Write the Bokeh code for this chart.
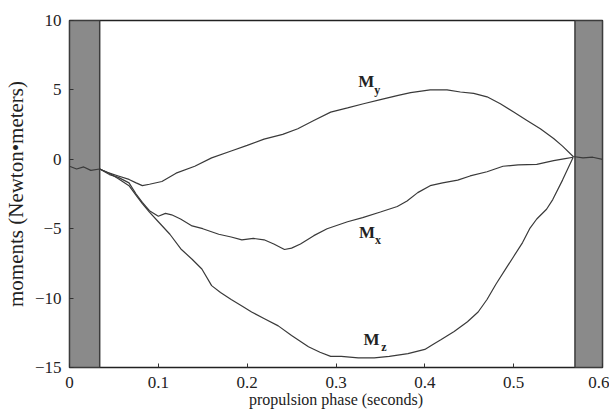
from bokeh.plotting import figure
from bokeh.models import FixedTicker, Range1d
from bokeh.core.properties import value
from bokeh.embed import file_html
from bokeh.resources import INLINE

# ---- data ----
my_x = [0, 0.008, 0.016, 0.024, 0.034, 0.045, 0.055, 0.067, 0.075, 0.082, 0.09, 0.104, 0.12,
        0.141, 0.16, 0.182, 0.2, 0.219, 0.24, 0.257, 0.275, 0.294, 0.313, 0.331, 0.35, 0.37,
        0.384, 0.406, 0.425, 0.44, 0.455, 0.47, 0.485, 0.5, 0.515, 0.53, 0.545, 0.555, 0.567,
        0.578, 0.589, 0.6]
my_y = [-0.5, -0.7, -0.55, -0.8, -0.7, -1.0, -1.2, -1.45, -1.7, -1.9, -1.8, -1.6, -1.0,
        -0.5, 0.1, 0.6, 1.0, 1.45, 1.8, 2.2, 2.8, 3.4, 3.7, 4.0, 4.3, 4.6,
        4.8, 5.0, 5.0, 4.85, 4.75, 4.5, 4.0, 3.4, 2.8, 2.2, 1.5, 0.95, 0.2,
        0.1, 0.15, 0.0]

mx_x = [0.034, 0.045, 0.055, 0.067, 0.075, 0.082, 0.09, 0.1, 0.108, 0.115, 0.125, 0.138, 0.15,
        0.168, 0.182, 0.194, 0.207, 0.219, 0.23, 0.242, 0.25, 0.26, 0.275, 0.29, 0.313, 0.33,
        0.35, 0.369, 0.38, 0.392, 0.406, 0.42, 0.437, 0.451, 0.47, 0.488, 0.505, 0.526, 0.545,
        0.558, 0.567]
mx_y = [-0.7, -1.1, -1.3, -1.7, -2.5, -3.1, -3.7, -4.1, -3.9, -4.0, -4.3, -4.8, -5.0,
        -5.4, -5.6, -5.8, -5.7, -5.8, -6.1, -6.5, -6.4, -6.1, -5.5, -5.0, -4.5, -4.2,
        -3.8, -3.4, -3.0, -2.4, -1.9, -1.7, -1.5, -1.2, -0.9, -0.5, -0.4, -0.36, -0.1,
        0.05, 0.15]

mz_x = [0.034, 0.045, 0.055, 0.067, 0.075, 0.082, 0.09, 0.1, 0.113, 0.126, 0.138, 0.149, 0.16,
        0.17, 0.182, 0.195, 0.205, 0.22, 0.235, 0.25, 0.269, 0.282, 0.294, 0.306, 0.325,
        0.343, 0.36, 0.381, 0.4, 0.41, 0.418, 0.433, 0.448, 0.46, 0.47, 0.48, 0.493, 0.5,
        0.51, 0.518, 0.526, 0.537, 0.544, 0.555, 0.567]
mz_y = [-0.7, -1.0, -1.4, -1.9, -2.6, -3.2, -3.8, -4.5, -5.4, -6.5, -7.2, -7.9, -9.1,
        -9.6, -10.1, -10.6, -11.0, -11.5, -12.0, -12.7, -13.5, -13.9, -14.2, -14.2, -14.3,
        -14.3, -14.2, -14.0, -13.7, -13.3, -13.0, -12.4, -11.7, -11.0, -10.1, -9.0, -7.7, -7.0,
        -6.0, -5.0, -4.3, -3.6, -2.9, -1.5, 0.15]

band_left = [0.0, 0.569]
band_right = [0.034, 0.6]

x_ticks = [0, 0.1, 0.2, 0.3, 0.4, 0.5, 0.6]
x_tick_labels = ["0", "0.1", "0.2", "0.3", "0.4", "0.5", "0.6"]
y_ticks = [-15, -10, -5, 0, 5, 10]

FONT = "Liberation Serif"
LINE = "#3a3a3a"

p = figure(width=609, height=414, output_backend="svg", toolbar_location=None,
           x_range=Range1d(0, 0.6), y_range=Range1d(-15, 10),
           min_border_left=66, min_border_right=7, min_border_top=20, min_border_bottom=47)
p.background_fill_color = "white"
p.border_fill_color = "white"
p.grid.visible = False
p.outline_line_color = "#222222"
p.outline_line_width = 1.5

# shaded bands
p.quad(left=band_left, right=band_right, bottom=-15, top=10,
       fill_color="#8a8a8a", line_color="#3c3c3c", line_width=1.5)

p.line(my_x, my_y, line_color=LINE, line_width=1.2)
p.line(mx_x, mx_y, line_color=LINE, line_width=1.2)
p.line(mz_x, mz_y, line_color=LINE, line_width=1.2)

# curve labels
main_lbl_x = [0.325, 0.326, 0.331]
main_lbl_y = [5.6, -5.3, -13.0]
sub_lbl_x = [0.343, 0.344, 0.351]
sub_lbl_y = [5.0, -5.85, -13.55]
p.text(x=main_lbl_x, y=main_lbl_y, text=["M", "M", "M"], text_font=value(FONT),
       text_font_size="17px", text_font_style="bold", text_baseline="middle",
       text_align="left", text_color="#222222")
p.text(x=sub_lbl_x, y=sub_lbl_y, text=["y", "x", "z"], text_font=value(FONT),
       text_font_size="12px", text_font_style="bold", text_baseline="middle",
       text_align="left", text_color="#222222")

p.xaxis.ticker = FixedTicker(ticks=x_ticks)
p.xaxis.major_label_overrides = {t: l for t, l in zip(x_ticks, x_tick_labels)}
p.yaxis.ticker = FixedTicker(ticks=y_ticks)

for ax in (p.xaxis, p.yaxis):
    ax.axis_line_color = None
    ax.major_tick_in = 4
    ax.major_tick_out = 0
    ax.minor_tick_line_color = None
    ax.major_tick_line_color = "#333333"
    ax.major_label_text_font = FONT
    ax.major_label_text_font_size = "17px"
    ax.major_label_text_color = "#222222"
    ax.axis_label_text_font = FONT
    ax.axis_label_text_color = "#222222"
    ax.axis_label_text_font_style = "normal"

p.xaxis.axis_label = "propulsion phase (seconds)"
p.yaxis.axis_label = "moments (Newton\u2022meters)"
p.xaxis.axis_label_text_font_size = "16px"
p.yaxis.axis_label_text_font_size = "21px"
p.xaxis.major_label_standoff = 9
p.xaxis.axis_label_standoff = 0
p.yaxis.major_label_standoff = 8
p.yaxis.axis_label_standoff = 4

open("out.html", "w").write(file_html(p, INLINE))
